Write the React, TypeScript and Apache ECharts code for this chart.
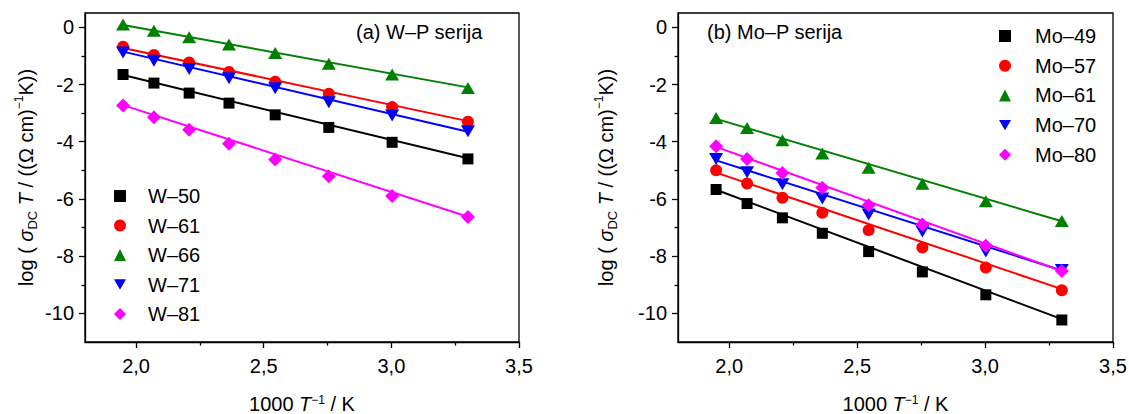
import React, { useEffect, useRef } from 'react';
import * as echarts from 'echarts';

const xValues = [1.949, 2.070, 2.208, 2.364, 2.545, 2.755, 3.003, 3.300];
const xFit = [1.949, 3.300];

const wNames = ['W–50', 'W–61', 'W–66', 'W–71', 'W–81'];
const w50 = [-1.65, -1.95, -2.3, -2.65, -3.06, -3.5, -4.02, -4.6];
const w61 = [-0.68, -0.97, -1.23, -1.56, -1.9, -2.32, -2.79, -3.3];
const w66 = [0.1, -0.12, -0.35, -0.6, -0.9, -1.27, -1.65, -2.12];
const w71 = [-0.88, -1.17, -1.46, -1.78, -2.13, -2.62, -3.08, -3.63];
const w81 = [-2.73, -3.14, -3.58, -4.07, -4.62, -5.21, -5.9, -6.63];
const wFitStart = [-1.67, -0.72, 0.08, -0.85, -2.72];
const wFitEnd = [-4.58, -3.28, -2.1, -3.65, -6.62];

const moNames = ['Mo–49', 'Mo–57', 'Mo–61', 'Mo–70', 'Mo–80'];
const mo49 = [-5.67, -6.16, -6.66, -7.2, -7.84, -8.55, -9.35, -10.23];
const mo57 = [-5.0, -5.46, -5.96, -6.48, -7.09, -7.7, -8.4, -9.19];
const mo61 = [-3.17, -3.52, -3.95, -4.41, -4.91, -5.47, -6.08, -6.77];
const mo70 = [-4.6, -5.07, -5.49, -5.98, -6.54, -7.14, -7.84, -8.48];
const mo80 = [-4.16, -4.6, -5.09, -5.61, -6.22, -6.89, -7.64, -8.52];
const moFitStart = [-5.68, -5.08, -3.2, -4.65, -4.18];
const moFitEnd = [-10.2, -9.15, -6.78, -8.5, -8.52];

const xMajorTicks = [2.0, 2.5, 3.0, 3.5];
const xMinorTicks = [2.25, 2.75, 3.25];
const yMajorTicks = [-10, -8, -6, -4, -2, 0];
const yMinorTicks = [-9, -7, -5, -3, -1];

const colors = ['#000000', '#ff0000', '#008000', '#0000ff', '#ff00ff'];
const symbols = ['rect', 'circle', 'triangle', 'triangle', 'diamond'];
const legendIcons = ['rect', 'circle', 'triangle', 'path://M0,0 L10,0 L5,8.66 Z', 'diamond'];
const symbolRotates = [0, 0, 0, 180, 0];
const symbolSizes: any[] = [11, 12, [14, 12], [14, 12], [14, 14]];

const FONT = 'Liberation Sans, Arial, sans-serif';
const FS = 20;

function App() {
  const ref = useRef<HTMLDivElement>(null);
  useEffect(() => {
    if (!ref.current) return;
    const chart = echarts.init(ref.current, null, { renderer: 'svg' });

    const grids = [
      { left: 85, top: 13, width: 434, height: 329 },
      { left: 678, top: 13, width: 435, height: 329 },
    ].map((g) => ({
      ...g, show: true, borderColor: '#000', borderWidth: 1.3, backgroundColor: 'transparent',
      containLabel: false, outerBoundsMode: 'none',
    }));

    const richY = {
      i: { fontStyle: 'italic', fontSize: FS, fontFamily: FONT, lineHeight: 26, color: '#000' },
      sub: { fontSize: 13, fontFamily: FONT, verticalAlign: 'bottom', color: '#000' },
      sup: { fontSize: 12, fontFamily: FONT, verticalAlign: 'top', color: '#000' },
    };
    const yNameStyle = { fontSize: FS, fontFamily: FONT, color: '#000', lineHeight: 26, rich: richY };
    const richX = {
      i: { fontStyle: 'italic', fontSize: FS, fontFamily: FONT, lineHeight: 19, color: '#000' },
      sup: { fontSize: 12, fontFamily: FONT, lineHeight: 12, verticalAlign: 'top', color: '#000' },
    };
    const xNameStyle = { fontSize: FS, fontFamily: FONT, color: '#000', lineHeight: 19, rich: richX };

    const xAxes: any[] = [];
    const yAxes: any[] = [];
    const yGaps = [46, 59];
    [0, 1].forEach((g) => {
      xAxes.push({
        type: 'value', gridIndex: g, min: 1.8, max: 3.5, position: 'bottom',
        splitLine: { show: false },
        axisLine: { show: true, onZero: false, lineStyle: { color: '#000', width: 1.3 } },
        axisTick: { show: true, length: 6, customValues: xMajorTicks, lineStyle: { color: '#000', width: 1.3 } },
        axisLabel: {
          customValues: xMajorTicks, margin: 14, fontSize: FS, fontFamily: FONT, color: '#000',
          formatter: (v: number) => v.toFixed(1).replace('.', ','),
        },
        name: '1000 {i|T}{sup|−1} / K', nameLocation: 'middle', nameGap: 52, nameTextStyle: xNameStyle,
      });
      xAxes.push({
        type: 'value', gridIndex: g, min: 1.8, max: 3.5, position: 'bottom',
        splitLine: { show: false },
        axisLine: { show: false, onZero: false },
        axisTick: { show: true, length: 3.5, customValues: xMinorTicks, lineStyle: { color: '#000', width: 1.3 } },
        axisLabel: { show: false },
      });
      yAxes.push({
        type: 'value', gridIndex: g, min: -11, max: 0.5, position: 'left',
        splitLine: { show: false },
        axisLine: { show: true, onZero: false, lineStyle: { color: '#000', width: 1.3 } },
        axisTick: { show: true, length: 6, customValues: yMajorTicks, lineStyle: { color: '#000', width: 1.3 } },
        axisLabel: {
          customValues: yMajorTicks, margin: 11, fontSize: FS, fontFamily: FONT, color: '#000',
          formatter: (v: number) => String(v),
        },
        name: 'log ( {i|σ}{sub|DC} {i|T} / ((Ω cm){sup|−1}K))',
        nameLocation: 'middle', nameRotate: 90, nameGap: yGaps[g], nameTextStyle: yNameStyle,
      });
      yAxes.push({
        type: 'value', gridIndex: g, min: -11, max: 0.5, position: 'left', offset: 0,
        splitLine: { show: false },
        axisLine: { show: false, onZero: false },
        axisTick: { show: true, length: 3.5, customValues: yMinorTicks, lineStyle: { color: '#000', width: 1.3 } },
        axisLabel: { show: false },
      });
    });

    const panels = [
      { names: wNames, data: [w50, w61, w66, w71, w81], fs: wFitStart, fe: wFitEnd },
      { names: moNames, data: [mo49, mo57, mo61, mo70, mo80], fs: moFitStart, fe: moFitEnd },
    ];
    const series: any[] = [];
    panels.forEach((p, pi) => {
      p.names.forEach((name, i) => {
        series.push({
          type: 'line', name: name + ' fit', xAxisIndex: pi * 2, yAxisIndex: pi * 2,
          data: [[xFit[0], p.fs[i]], [xFit[1], p.fe[i]]],
          symbol: 'none', showSymbol: false, silent: true, z: 2,
          lineStyle: { color: colors[i], width: 2 },
        });
      });
      p.names.forEach((name, i) => {
        series.push({
          type: 'scatter', name, xAxisIndex: pi * 2, yAxisIndex: pi * 2,
          data: xValues.map((x, j) => [x, p.data[i][j]]),
          symbol: symbols[i], symbolSize: symbolSizes[i], symbolRotate: symbolRotates[i],
          itemStyle: { color: colors[i], opacity: 1 }, z: 3,
        });
      });
    });

    const legendBase = {
      orient: 'vertical', itemWidth: 12, itemHeight: 12, padding: 0, symbolRotate: 0,
      textStyle: { fontSize: FS, fontFamily: FONT, color: '#000', lineHeight: 18 },
    };
    const legendData = (names: string[]) => names.map((n, i) => ({ name: n, icon: legendIcons[i] }));

    chart.setOption({
      animation: false,
      backgroundColor: '#fff',
      textStyle: { fontFamily: FONT },
      grid: grids,
      xAxis: xAxes,
      yAxis: yAxes,
      legend: [
        { ...legendBase, data: legendData(wNames), left: 114, top: 186, itemGap: 9.5,
          textStyle: { ...legendBase.textStyle, padding: [0, 0, 0, 17] } },
        { ...legendBase, data: legendData(moNames), left: 999, top: 26, itemGap: 9.7,
          textStyle: { ...legendBase.textStyle, padding: [0, 0, 0, 19] } },
      ],
      graphic: [
        { type: 'text', left: 356, top: 22, style: { text: '(a) W–P serija', fontSize: FS, fontFamily: FONT, fill: '#000' } },
        { type: 'text', left: 707, top: 22, style: { text: '(b) Mo–P serija', fontSize: FS, fontFamily: FONT, fill: '#000' } },
      ],
      series,
    });
    return () => chart.dispose();
  }, []);
  return <div ref={ref} style={{ position: 'absolute', left: 0, top: 0, width: 1129, height: 414 }} />;
}

export default App;
